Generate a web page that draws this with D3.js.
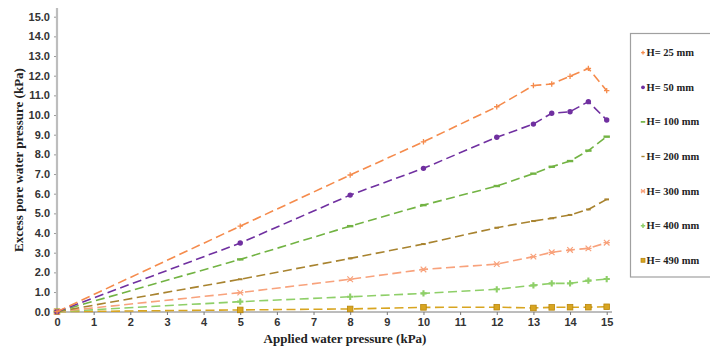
<!DOCTYPE html>
<html><head><meta charset="utf-8">
<script src="https://cdn.jsdelivr.net/npm/d3@7"></script>
<style>
html,body{margin:0;padding:0;background:#fff;}
svg{display:block;font-family:"Liberation Serif","Times New Roman",serif;font-weight:bold;}
</style></head>
<body><svg id="c" width="710" height="347"></svg>
<script>
const xValues = [0, 5, 8, 10, 12, 13, 13.5, 14, 14.5, 15];
const seriesNames = ["H= 25 mm","H= 50 mm","H= 100 mm","H= 200 mm","H= 300 mm","H= 400 mm","H= 490 mm"];
const h25  = [0, 4.35, 6.95, 8.64, 10.42, 11.5, 11.58, 11.97, 12.37, 11.24];
const h50  = [0, 3.49, 5.93, 7.29, 8.87, 9.54, 10.09, 10.17, 10.68, 9.75];
const h100 = [0, 2.66, 4.35, 5.42, 6.39, 7.02, 7.37, 7.66, 8.19, 8.9];
const h200 = [0, 1.65, 2.71, 3.44, 4.27, 4.61, 4.75, 4.92, 5.2, 5.71];
const h300 = [0, 0.97, 1.65, 2.15, 2.42, 2.8, 3.02, 3.14, 3.22, 3.51];
const h400 = [0, 0.51, 0.76, 0.93, 1.14, 1.34, 1.44, 1.44, 1.58, 1.66];
const h490 = [0, 0.09, 0.14, 0.22, 0.23, 0.19, 0.22, 0.23, 0.23, 0.25];
const xTicks = [0,1,2,3,4,5,6,7,8,9,10,11,12,13,14,15];
const yTicks = [0,1,2,3,4,5,6,7,8,9,10,11,12,13,14,15];
const colors = ["#F58B4C","#7030A0","#72B343","#A8832F","#F8A27C","#8ECF68","#D8A521"];
const symbols = ["plus","circle","hbar","sbar","star","cross","square"];
const allSeries = [h25,h50,h100,h200,h300,h400,h490];

const svg = d3.select("#c");
const x = d3.scaleLinear().domain([0,15]).range([57,606.7]);
const y = d3.scaleLinear().domain([0,15]).range([311.7,16.7]);

// axes
const yAxis = d3.axisLeft(y).tickValues(yTicks).tickFormat(d3.format(".1f")).tickSize(3).tickPadding(4);
const gy = svg.append("g").attr("transform","translate(57,0)").call(yAxis);
gy.select(".domain").remove();
gy.selectAll(".tick line").attr("stroke","#999");
gy.selectAll("text").attr("font-size","11px").attr("fill","#333");
svg.append("line").attr("x1",57).attr("x2",57).attr("y1",8).attr("y2",312).attr("stroke","#BDBDBD").attr("stroke-width",2.2);

const xAxis = d3.axisBottom(x).tickValues(xTicks).tickFormat(d3.format("d")).tickSize(3).tickPadding(3);
const gx = svg.append("g").attr("transform","translate(0,312)").call(xAxis);
gx.select(".domain").remove();
gx.selectAll(".tick line").attr("stroke","#777");
gx.selectAll("text").attr("font-size","11px").attr("fill","#333");
svg.append("line").attr("x1",56).attr("x2",612).attr("y1",312).attr("y2",312).attr("stroke","#7a7a7a").attr("stroke-width",1);

// titles
svg.append("text").attr("x",345).attr("y",343).attr("text-anchor","middle").attr("font-size","13px").attr("fill","#222").text("Applied water pressure (kPa)");
svg.append("text").attr("transform","translate(23,160) rotate(-90)").attr("text-anchor","middle").attr("font-size","13px").attr("fill","#222").text("Excess pore water pressure (kPa)");

function drawMarker(g, type, color, cx, cy, s){
  s = s||1;
  if(type==="plus"){
    g.append("path").attr("d",`M${cx-2.7*s},${cy}H${cx+2.7*s}M${cx},${cy-2.7*s}V${cy+2.7*s}`).attr("stroke",color).attr("stroke-width",1.3);
  } else if(type==="circle"){
    g.append("circle").attr("cx",cx).attr("cy",cy).attr("r",2.7*s).attr("fill",color);
  } else if(type==="hbar"){
    g.append("rect").attr("x",cx-3.2*s).attr("y",cy-1.2*s).attr("width",6.4*s).attr("height",2.4*s).attr("fill",color);
  } else if(type==="sbar"){
    g.append("rect").attr("x",cx-2.3*s).attr("y",cy-1*s).attr("width",4.6*s).attr("height",2*s).attr("fill",color);
  } else if(type==="star"){
    g.append("path").attr("d",`M${cx-2.8*s},${cy-2.8*s}L${cx+2.8*s},${cy+2.8*s}M${cx-2.8*s},${cy+2.8*s}L${cx+2.8*s},${cy-2.8*s}M${cx-3.2*s},${cy}H${cx+3.2*s}`).attr("stroke",color).attr("stroke-width",1.2);
  } else if(type==="cross"){
    g.append("path").attr("d",d3.symbol(d3.symbolCross, 22*s*s)()).attr("transform",`translate(${cx},${cy})`).attr("fill",color);
  } else if(type==="square"){
    g.append("rect").attr("x",cx-2.8*s).attr("y",cy-2.8*s).attr("width",5.6*s).attr("height",5.6*s).attr("fill",color).attr("stroke","#B8860B").attr("stroke-width",0.8);
  }
}

const line = d3.line().x((d,i)=>x(xValues[i])).y(d=>y(d));
for(let k=allSeries.length-1;k>=0;k--){
  const g = svg.append("g");
  g.append("path").datum(allSeries[k]).attr("d",line).attr("fill","none")
    .attr("stroke",colors[k]).attr("stroke-width",1.6).attr("stroke-dasharray","9,4.5");
  allSeries[k].forEach((v,i)=>drawMarker(g, symbols[k], colors[k], x(xValues[i]), y(v)));
}

// legend
const leg = svg.append("g");
leg.append("rect").attr("x",630.5).attr("y",33.5).attr("width",90).attr("height",243.5).attr("fill","#fff").attr("stroke","#A0A0A0").attr("stroke-width",1.2);
seriesNames.forEach((n,i)=>{
  const ly = 52.7 + i*34.6;
  drawMarker(leg, symbols[i], colors[i], 643, ly, 0.7);
  leg.append("text").attr("x",646.5).attr("y",ly+3.5).attr("font-size","10.5px").attr("fill","#222").text(n);
});
</script></body></html>
